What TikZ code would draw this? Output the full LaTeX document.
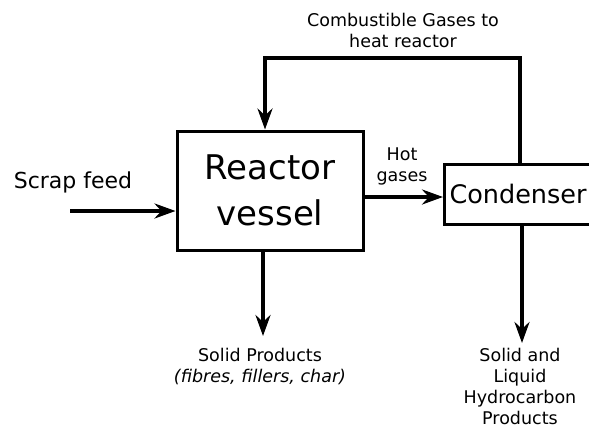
\documentclass[tikz,border=0pt]{standalone}
\usepackage{fontspec}
\setmainfont{DejaVu Sans}
\usetikzlibrary{arrows.meta}
\tikzset{
  flow/.style={line width=4.5pt, -{Stealth[length=21pt,width=15pt,inset=7pt]}},
  box/.style={draw, line width=3pt, inner sep=0pt},
  lbl/.style={font=\fontsize{17.5}{21}\selectfont, align=center, inner sep=0pt},
}
\begin{document}
\begin{tikzpicture}[x=1pt,y=-1pt]
\useasboundingbox (0,0) rectangle (589,431);
\clip (0,0) rectangle (589,431);
% boxes
\node[box, minimum width=186pt, minimum height=119pt, align=center,
      font=\fontsize{34}{46}\selectfont] (reactor) at (270,190.5) {Reactor\\vessel};
\node[box, minimum width=190pt, minimum height=60pt, anchor=west,
      text width=180pt, inner xsep=5pt, align=left,
      font=\fontsize{25.5}{30}\selectfont] (cond) at (443,194) {Condenser};
% labels
\node[lbl, font=\fontsize{22}{26}\selectfont] (scrap) at (73,182) {Scrap feed};
\node[lbl] (hot) at (402,166) {Hot\\gases};
\node[lbl] (comb) at (403,30) {Combustible Gases to\\heat reactor};
\node[lbl, anchor=north] (solid) at (260,348) {Solid Products\\\textit{(fibres, fillers, char)}};
\node[lbl, anchor=north] (hydro) at (520,348) {Solid and\\Liquid\\Hydrocarbon\\Products};
% coordinates
\coordinate (feedstart) at (70,211);
\coordinate (hg) at (400,197);
\coordinate (loopR) at (520,58);
\coordinate (loopL) at (265,58);
\coordinate (solidend) at (263,336);
\coordinate (hydroend) at (522,343);
% connectors
\draw[flow] (feedstart) -- (reactor.west |- feedstart);
\draw[flow] (reactor.east |- hg) -- (cond.west |- hg);
\draw[flow] (cond.north -| loopR) -- (loopR) -- (loopL) -- (reactor.north -| loopL);
\draw[flow] (reactor.south -| solidend) -- (solidend);
\draw[flow] (cond.south -| hydroend) -- (hydroend);
\end{tikzpicture}
\end{document}
